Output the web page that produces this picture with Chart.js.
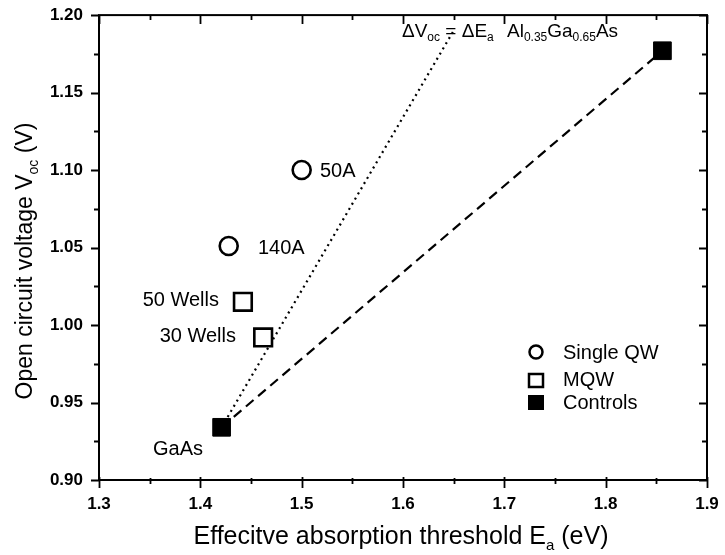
<!DOCTYPE html>
<html><head><meta charset="utf-8">
<script src="https://cdn.jsdelivr.net/npm/chart.js@4/dist/chart.umd.min.js"></script>
<style>html,body{margin:0;padding:0;background:#fff}#wrap{width:725px;height:555px}</style>
</head><body><div id="wrap"><canvas id="c" width="725" height="555"></canvas></div>
<script>
const singleQW_x = [1.500, 1.428];
const singleQW_y = [1.100, 1.051];
const singleQW_labels = ["50A", "140A"];
const mqw_x = [1.442, 1.462];
const mqw_y = [1.015, 0.992];
const mqw_labels = ["50 Wells", "30 Wells"];
const ctrl_x = [1.421, 1.856];
const ctrl_y = [0.934, 1.177];
const ctrl_labels = ["GaAs", "AlGaAs"];
const dotted_x = [1.421, 1.650];
const dotted_y = [0.934, 1.190];
const xTicks = [1.3, 1.4, 1.5, 1.6, 1.7, 1.8, 1.9];
const yTicks = [0.90, 0.95, 1.00, 1.05, 1.10, 1.15, 1.20];

const pts = (xs, ys) => xs.map((x, i) => ({x: x, y: ys[i]}));
const FONT = '"Liberation Sans", Arial, Helvetica, sans-serif';

function partsWidth(ctx, parts, big, small, weight) {
  let w = 0;
  for (const [t, s] of parts) { ctx.font = weight + ' ' + (s ? small : big) + 'px ' + FONT; w += ctx.measureText(t).width; }
  return w;
}
function drawParts(ctx, parts, x, y, big, small, drop, weight) {
  ctx.textAlign = 'left'; ctx.textBaseline = 'alphabetic';
  for (const [t, s] of parts) {
    ctx.font = weight + ' ' + (s ? small : big) + 'px ' + FONT;
    ctx.fillText(t, x, y + (s ? drop : 0));
    x += ctx.measureText(t).width;
  }
  return x;
}

const overlay = {
  id: 'overlay',
  afterDatasetsDraw(chart) {
    const ctx = chart.ctx, a = chart.chartArea;
    const xs = chart.scales.x, ys = chart.scales.y;
    ctx.save();
    ctx.strokeStyle = '#000'; ctx.lineWidth = 2;
    ctx.strokeRect(a.left, a.top, a.right - a.left, a.bottom - a.top);
    ctx.lineWidth = 1.8;
    for (let v = 1.3; v <= 1.9001; v += 0.05) {
      const px = Math.round(xs.getPixelForValue(v)) + 0.5;
      const major = Math.abs(v * 10 - Math.round(v * 10)) < 0.01;
      ctx.beginPath();
      ctx.moveTo(px, a.bottom - (major ? 3 : 2)); ctx.lineTo(px, a.bottom + (major ? 8 : 4));
      ctx.moveTo(px, a.top); ctx.lineTo(px, a.top + (major ? 9 : 5));
      ctx.stroke();
    }
    for (let v = 0.9; v <= 1.2001; v += 0.025) {
      const py = Math.round(ys.getPixelForValue(v)) + 0.5;
      const major = Math.abs(v * 20 - Math.round(v * 20)) < 0.01;
      ctx.beginPath();
      ctx.moveTo(a.left - (major ? 8 : 5), py); ctx.lineTo(a.left, py);
      ctx.moveTo(a.right, py); ctx.lineTo(a.right - (major ? 8 : 5), py);
      ctx.stroke();
    }
    // tick labels
    ctx.fillStyle = '#000';
    ctx.font = 'bold 17px ' + FONT;
    ctx.textAlign = 'center'; ctx.textBaseline = 'middle';
    for (const v of xTicks) ctx.fillText(v.toFixed(1), xs.getPixelForValue(v), a.bottom + 24);
    ctx.textAlign = 'right';
    for (const v of yTicks) ctx.fillText(v.toFixed(2), a.left - 16, ys.getPixelForValue(v));
    // annotations
    ctx.font = '20px ' + FONT;
    ctx.textBaseline = 'middle';
    ctx.textAlign = 'left';
    ctx.fillText(singleQW_labels[0], 320, 171);
    ctx.fillText(singleQW_labels[1], 258, 248);
    ctx.textAlign = 'right';
    ctx.fillText(mqw_labels[0], 219, 300);
    ctx.fillText(mqw_labels[1], 236, 336);
    ctx.fillText(ctrl_labels[0], 203, 449);
    drawParts(ctx, [["Al", 0], ["0.35", 1], ["Ga", 0], ["0.65", 1], ["As", 0]], 507, 37, 19, 12, 4, 'normal');
    drawParts(ctx, [["\u0394V", 0], ["oc", 1], [" = \u0394E", 0], ["a", 1]], 402, 37, 19, 12, 4, 'normal');
    // legend
    ctx.lineWidth = 2.5;
    ctx.beginPath(); ctx.arc(536, 352, 6.5, 0, Math.PI * 2); ctx.stroke();
    ctx.strokeRect(529, 374, 14, 13);
    ctx.fillRect(528, 395, 16, 15);
    ctx.font = '20px ' + FONT; ctx.textBaseline = 'middle'; ctx.textAlign = 'left';
    ctx.fillText('Single QW', 563, 353);
    ctx.fillText('MQW', 563, 380);
    ctx.fillText('Controls', 563, 403);
    // x title
    const xParts = [["Effecitve absorption threshold E", 0], ["a", 1], [" (eV)", 0]];
    let w = partsWidth(ctx, xParts, 25, 15, 'normal');
    drawParts(ctx, xParts, 401 - w / 2, 544, 25, 15, 6, 'normal');
    // y title
    ctx.save();
    ctx.translate(32, 261); ctx.rotate(-Math.PI / 2);
    const yParts = [["Open circuit voltage V", 0], ["oc", 1], [" (V)", 0]];
    w = partsWidth(ctx, yParts, 23, 14, 'normal');
    drawParts(ctx, yParts, -w / 2, 0, 23, 14, 6, 'normal');
    ctx.restore();
    ctx.restore();
  }
};

new Chart(document.getElementById('c'), {
  type: 'scatter',
  data: {
    datasets: [
      {label: 'dotted', data: pts(dotted_x, dotted_y), showLine: true, borderColor: '#000', borderWidth: 2.2, borderDash: [2, 4], pointRadius: 0, order: 3},
      {label: 'dashed', data: pts(ctrl_x, ctrl_y), showLine: true, borderColor: '#000', borderWidth: 2.2, borderDash: [10, 6], pointRadius: 0, order: 3},
      {label: 'Single QW', data: pts(singleQW_x, singleQW_y), pointStyle: 'circle', pointRadius: 9, borderWidth: 2.6, borderColor: '#000', backgroundColor: '#fff', order: 1},
      {label: 'MQW', data: pts(mqw_x, mqw_y), pointStyle: 'rect', pointRadius: 12.5, borderWidth: 2.6, borderColor: '#000', backgroundColor: '#fff', order: 1},
      {label: 'Controls', data: pts(ctrl_x, ctrl_y), pointStyle: 'rect', pointRadius: 12.5, borderWidth: 1, borderColor: '#000', backgroundColor: '#000', order: 1}
    ]
  },
  options: {
    responsive: false, animation: false,
    layout: {padding: {left: 0, right: 18, top: 15, bottom: 0}},
    plugins: {legend: {display: false}, tooltip: {enabled: false}},
    scales: {
      x: {
        min: 1.3, max: 1.9,
        afterFit: s => { s.height = 75; },
        afterBuildTicks: s => { s.ticks = xTicks.map(v => ({value: v})); },
        grid: {display: false}, border: {display: false},
        ticks: {display: false}
      },
      y: {
        min: 0.9, max: 1.2,
        afterFit: s => { s.width = 99; },
        afterBuildTicks: s => { s.ticks = yTicks.map(v => ({value: v})); },
        grid: {display: false}, border: {display: false},
        ticks: {display: false}
      }
    }
  },
  plugins: [overlay]
});
</script></body></html>
